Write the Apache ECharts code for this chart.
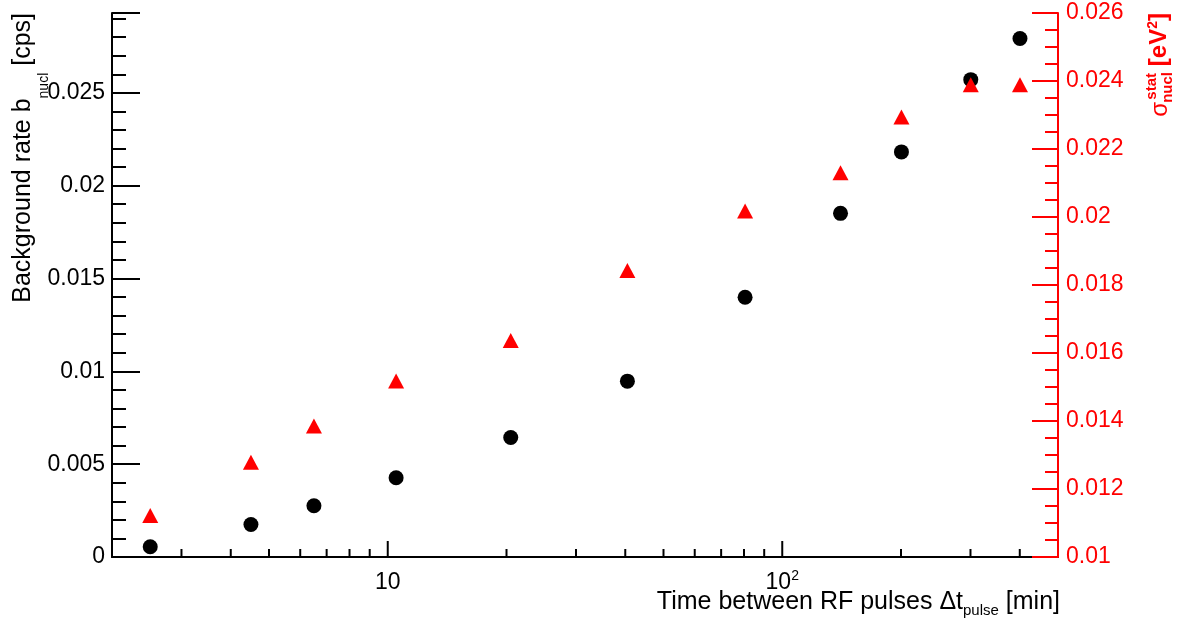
<!DOCTYPE html>
<html>
<head>
<meta charset="utf-8">
<script src="https://cdn.jsdelivr.net/npm/echarts@6/dist/echarts.min.js"></script>
<style>
  html, body { margin: 0; padding: 0; background: #fff; }
  #chart { width: 1179px; height: 621px; }
</style>
</head>
<body>
<div id="chart"></div>
<script>
// time between RF pulses [min]
var pulseTimes = [2.5, 4.5, 6.5, 10.5, 20.5, 40.5, 80.5, 140.5, 200.5, 300.5, 400.5];
// background rate b_nucl [cps] (left axis, black circles)
var bgRate = [0.00055, 0.00175, 0.00276, 0.00427, 0.00644, 0.00947, 0.01399, 0.01851, 0.02182, 0.02571, 0.02793];
// sigma_nucl^stat [eV^2] (right axis, red triangles)
var sigmaStat = [0.01122, 0.01279, 0.01385, 0.01518, 0.01637, 0.01843, 0.02018, 0.0213, 0.02294, 0.02389, 0.02389];

// x axis ticks
var xMajorTicks = [10, 100];
var xMinorTicks = [3, 4, 5, 6, 7, 8, 9, 20, 30, 40, 50, 60, 70, 80, 90, 200, 300, 400];

var RED = '#ff0000';
var FONT = 'Liberation Sans, Arial, Helvetica, sans-serif';

var chart = echarts.init(document.getElementById('chart'));

function pairs(xs, ys) {
  return xs.map(function (x, i) { return [x, ys[i]]; });
}

function tickSeries(vals, len) {
  return {
    type: 'custom',
    xAxisIndex: 0,
    yAxisIndex: 0,
    silent: true,
    clip: false,
    data: vals.map(function (v) { return [v, 0]; }),
    renderItem: function (params, api) {
      var p = api.coord([api.value(0), api.value(1)]);
      return {
        type: 'line',
        shape: { x1: p[0], y1: p[1], x2: p[0], y2: p[1] - len },
        style: { stroke: '#000', lineWidth: 2 }
      };
    }
  };
}

function onStep(v, step) {
  var r = v / step;
  return Math.abs(r - Math.round(r)) < 1e-6;
}

var option = {
  animation: false,
  backgroundColor: '#fff',
  textStyle: { fontFamily: FONT },
  grid: { left: 112, right: 121, top: 13, bottom: 64, containLabel: false },
  xAxis: [
    {
      type: 'log',
      logBase: 10,
      min: 2,
      max: 500,
      position: 'bottom',
      z: 1,
      axisLine: { lineStyle: { color: '#000', width: 2 } },
      axisTick: { show: false },
      splitLine: { show: false },
      axisLabel: {
        color: '#000',
        fontSize: 23,
        fontFamily: FONT,
        margin: 12,
        formatter: function (v) {
          if (Math.abs(v - 10) < 1e-6) return '{m|10}';
          if (Math.abs(v - 100) < 1e-6) return '{m|10}{sup|2}';
          return '';
        },
        rich: {
          m: { fontSize: 23, fontFamily: FONT, color: '#000', lineHeight: 28 },
          sup: { fontSize: 14, fontFamily: FONT, color: '#000', verticalAlign: 'top', lineHeight: 14 }
        }
      }
    },
    {
      type: 'log',
      logBase: 10,
      min: 2,
      max: 500,
      position: 'top',
      z: 1,
      axisLine: { lineStyle: { color: '#000', width: 1.5 } },
      axisTick: { show: false },
      axisLabel: { show: false },
      splitLine: { show: false }
    }
  ],
  yAxis: [
    {
      type: 'value',
      position: 'left',
      min: 0,
      max: 0.0293,
      interval: 0.005,
      z: 2,
      axisLine: { show: true, lineStyle: { color: '#000', width: 2 } },
      axisTick: { show: true, inside: true, length: 28, lineStyle: { color: '#000', width: 2 } },
      splitLine: { show: false },
      axisLabel: {
        color: '#000',
        fontSize: 23,
        fontFamily: FONT,
        margin: 7,
        formatter: function (v) { return onStep(v, 0.005) ? String(+v.toFixed(4)) : ''; }
      }
    },
    {
      type: 'value',
      position: 'left',
      min: 0,
      max: 0.0293,
      interval: 0.001,
      z: 2,
      axisLine: { show: false },
      axisTick: { show: true, inside: true, length: 14, lineStyle: { color: '#000', width: 2 } },
      axisLabel: { show: false },
      splitLine: { show: false }
    },
    {
      type: 'value',
      position: 'right',
      min: 0.01,
      max: 0.026,
      interval: 0.002,
      z: 3,
      axisLine: { show: true, lineStyle: { color: RED, width: 2 } },
      axisTick: { show: true, inside: true, length: 26, lineStyle: { color: RED, width: 2 } },
      minorTick: { show: true, splitNumber: 4, length: 13, lineStyle: { color: RED, width: 2 } },
      splitLine: { show: false },
      minorSplitLine: { show: false },
      axisLabel: {
        color: RED,
        fontSize: 23,
        fontFamily: FONT,
        margin: 8,
        formatter: function (v) { return String(+v.toFixed(4)); }
      }
    }
  ],
  series: [
    tickSeries(xMinorTicks, 8),
    tickSeries(xMajorTicks, 16),
    {
      name: 'Background rate',
      type: 'scatter',
      xAxisIndex: 0,
      yAxisIndex: 0,
      symbol: 'circle',
      symbolSize: 15,
      itemStyle: { color: '#000', opacity: 1 },
      data: pairs(pulseTimes, bgRate),
      z: 5
    },
    {
      name: 'sigma stat',
      type: 'scatter',
      xAxisIndex: 0,
      yAxisIndex: 2,
      symbol: 'triangle',
      symbolSize: [16, 15],
      itemStyle: { color: RED, opacity: 1 },
      data: pairs(pulseTimes, sigmaStat),
      z: 6
    }
  ],
  graphic: [
    {
      // x axis title
      type: 'text',
      x: 1060,
      y: 602,
      style: {
        text: '{m|Time between RF pulses \u0394t}{s|pulse}{m| [min]}',
        align: 'right', textAlign: 'right',
        verticalAlign: 'middle', textVerticalAlign: 'middle',
        fill: '#000',
        font: '25px ' + FONT,
        rich: {
          m: { fontSize: 25, fontFamily: FONT, fill: '#000', color: '#000', lineHeight: 32 },
          s: { fontSize: 15, fontFamily: FONT, fill: '#000', color: '#000', lineHeight: 15, verticalAlign: 'bottom' }
        }
      }
    },
    {
      // left y axis title
      type: 'text',
      x: 23,
      y: 13,
      rotation: Math.PI / 2,
      style: {
        text: '{m|Background rate b}{s|nucl}{m| [cps]}',
        align: 'right', textAlign: 'right',
        verticalAlign: 'middle', textVerticalAlign: 'middle',
        fill: '#000',
        font: '25px ' + FONT,
        rich: {
          m: { fontSize: 25, fontFamily: FONT, fill: '#000', color: '#000', lineHeight: 56 },
          s: { fontSize: 14, fontFamily: FONT, fill: '#000', color: '#000', lineHeight: 14, verticalAlign: 'bottom' }
        }
      }
    },
    {
      // right y axis title
      type: 'group',
      x: 1159,
      y: 13,
      rotation: Math.PI / 2,
      children: [
        {
          type: 'text', x: 0, y: 0,
          style: {
            text: '{m|[eV}{sup|2}{m|]}',
            align: 'right', textAlign: 'right',
            verticalAlign: 'middle', textVerticalAlign: 'middle',
            fill: RED,
            font: 'bold 24px ' + FONT,
            rich: {
              m: { fontSize: 24, fontWeight: 'bold', fontFamily: FONT, fill: RED, color: RED, lineHeight: 26 },
              sup: { fontSize: 14, fontWeight: 'bold', fontFamily: FONT, fill: RED, color: RED, lineHeight: 14, verticalAlign: 'top' }
            }
          }
        },
        {
          type: 'text', x: -60, y: -7,
          style: {
            text: 'stat', align: 'right', textAlign: 'right',
            verticalAlign: 'middle', textVerticalAlign: 'middle',
            fill: RED, font: 'bold 15px ' + FONT
          }
        },
        {
          type: 'text', x: -59, y: 9,
          style: {
            text: 'nucl', align: 'right', textAlign: 'right',
            verticalAlign: 'middle', textVerticalAlign: 'middle',
            fill: RED, font: 'bold 15px ' + FONT
          }
        },
        {
          type: 'text', x: -89, y: 1,
          style: {
            text: '\u03c3', align: 'right', textAlign: 'right',
            verticalAlign: 'middle', textVerticalAlign: 'middle',
            fill: RED, font: '24px ' + FONT
          }
        }
      ]
    }
  ]
};

chart.setOption(option);
</script>
</body>
</html>
